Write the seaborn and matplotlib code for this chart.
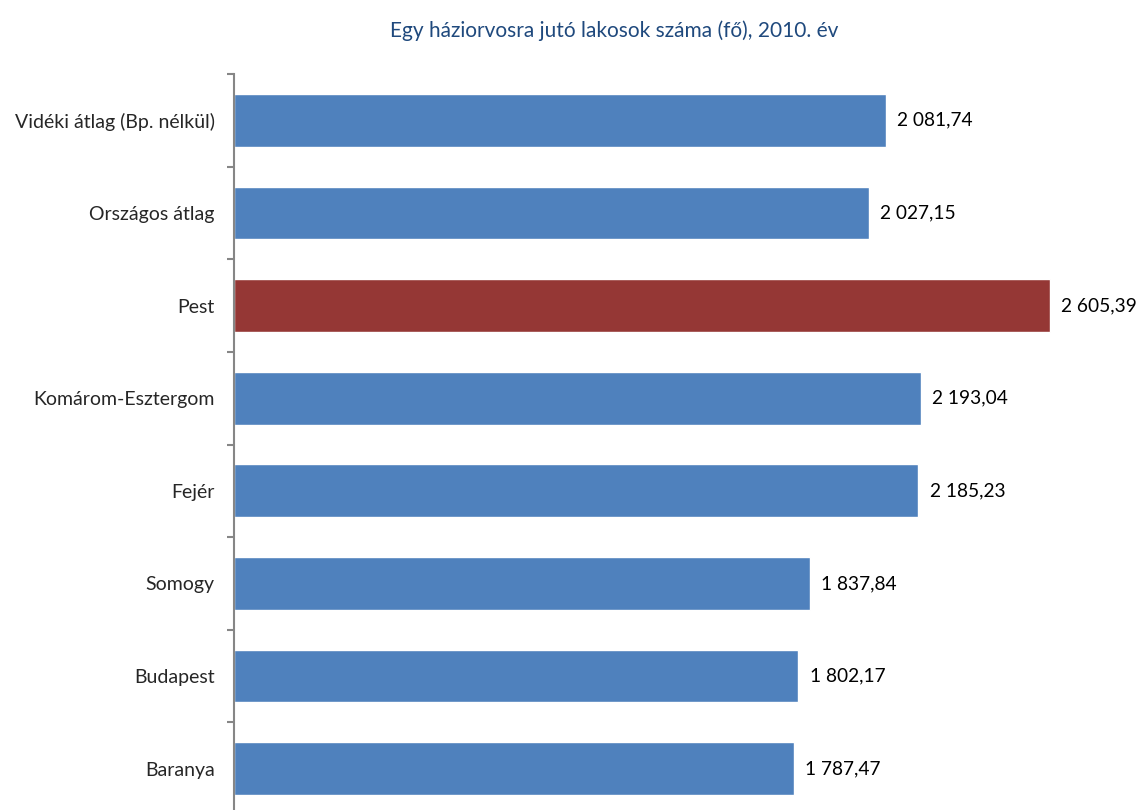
from matplotlib import pyplot as plt
import seaborn as sns
import numpy as np
import pandas as pd

categories = ["Vidéki átlag (Bp. nélkül)", "Országos átlag", "Pest", "Komárom-Esztergom",
              "Fejér", "Somogy", "Budapest", "Baranya"]
values = [2081.74, 2027.15, 2605.39, 2193.04, 2185.23, 1837.84, 1802.17, 1787.47]
highlight = "Pest"
title = "Egy háziorvosra jutó lakosok száma (fő), 2010. év"

blue = "#4F81BD"
red = "#953735"
palette = {c: (red if c == highlight else blue) for c in categories}

sns.set_style("white")
plt.rcParams['font.family'] = ['Lato', 'DejaVu Sans']

df = pd.DataFrame({"cat": categories, "val": values})

fig = plt.figure(figsize=(11.43, 8.1), dpi=100)
ax = fig.add_axes([234/1143, -5/810, 1 - 234/1143, 741/810])

sns.barplot(data=df, x="val", y="cat", hue="cat", palette=palette, legend=False,
            width=0.57, saturation=1, ax=ax)

ax.set_xlim(0, 2902)
ax.set_ylim(len(categories) - 0.5, -0.5)

def fmt(v):
	return f"{v:,.2f}".replace(",", " ").replace(".", ",")

for i, v in enumerate(values):
	ax.annotate(fmt(v), (v, i), xytext=(8, 0), textcoords="offset points",
	            va="center", ha="left", fontsize=13.8, color="black")

# axis styling
for s in ["top", "right", "bottom"]:
	ax.spines[s].set_visible(False)
ax.spines["left"].set_color("#868686")
ax.spines["left"].set_linewidth(1.5)
ax.set_xticks([])
ax.set_xlabel("")
ax.set_ylabel("")
ax.set_yticks(range(len(categories)))
ax.set_yticklabels(categories, fontsize=14)
ax.tick_params(axis="y", which="major", left=False, length=0, pad=14)
ax.set_yticks(np.arange(-0.5, len(categories), 1), minor=True)
ax.tick_params(axis="y", which="minor", left=True, length=5, width=1.5,
               color="#868686", direction="out")

fig.text(0.537, 0.962, title, ha="center", va="center", fontsize=15, color="#1F497D")

plt.savefig("out.png", dpi=100)
